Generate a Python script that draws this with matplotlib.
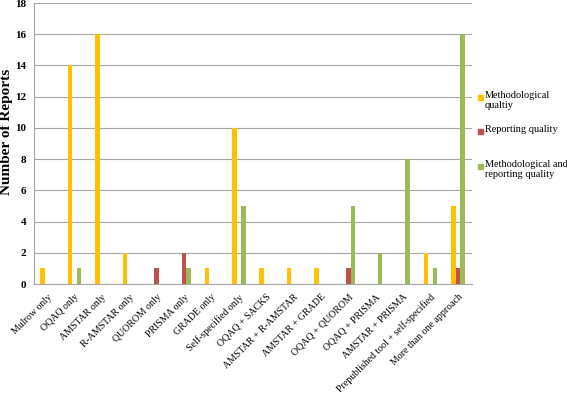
import numpy as np
import matplotlib.pyplot as plt
from matplotlib.patches import Rectangle

plt.rcParams['font.family'] = ['Liberation Serif', 'DejaVu Serif']

categorias = ["Mulrow only", "OQAQ only", "AMSTAR only", "R-AMSTAR only",
              "QUOROM only", "PRISMA only", "GRADE only", "Self-specified only",
              "OQAQ + SACKS", "AMSTAR + R-AMSTAR", "AMSTAR + GRADE",
              "OQAQ + QUOROM", "OQAQ + PRISMA", "AMSTAR + PRISMA",
              "Prepublished tool + self-specified", "More than one approach"]
metodologica = [1, 14, 16, 2, 0, 0, 1, 10, 1, 1, 1, 0, 0, 0, 2, 5]
reporte = [0, 0, 0, 0, 1, 2, 0, 0, 0, 0, 0, 1, 0, 0, 0, 1]
ambas = [0, 1, 0, 0, 0, 1, 0, 5, 0, 0, 0, 5, 2, 8, 1, 16]

series = [
    ("Methodological\nqualtiy", metodologica, "#FFC000"),
    ("Reporting quality", reporte, "#C0504D"),
    ("Methodological and\nreporting quality", ambas, "#9BBB59"),
]

W, H = 567, 394
fig = plt.figure(figsize=(W / 100, H / 100), dpi=100)
ax = fig.add_axes([33.5 / W, 1 - 284 / H, 438 / W, 281 / H])

x = np.arange(len(categorias))
ancho = 0.165
for i, (nombre, valores, color) in enumerate(series):
    ax.bar(x + (i - 1) * ancho, valores, ancho, color=color, label=nombre)

ax.set_xlim(-0.5, len(categorias) - 0.5)
ax.set_ylim(0, 18)
ax.set_yticks(range(0, 19, 2))
ax.yaxis.grid(True, color="#A6A6A6", linewidth=0.8)
ax.set_axisbelow(True)
for s in ["top", "right"]:
    ax.spines[s].set_visible(False)
for s in ["left", "bottom"]:
    ax.spines[s].set_color("#A6A6A6")
ax.tick_params(axis="both", length=0)
ax.tick_params(axis="x", pad=6)
ax.tick_params(axis="y", labelsize=8, pad=5)
for t in ax.get_yticklabels():
    t.set_fontweight("bold")

ax.set_xticks(x)
ax.set_xticklabels(categorias, rotation=45, ha="right", rotation_mode="anchor",
                   fontsize=7.1)
ax.set_ylabel("Number of Reports", fontsize=11, fontweight="bold")
ax.yaxis.set_label_coords(-0.047, 0.54)

# leyenda a la derecha, como en Excel
y_leyenda = [97, 131, 166]
for (nombre, _, color), yl in zip(series, y_leyenda):
    fig.patches.append(Rectangle((478 / W, 1 - (yl + 2.5) / H), 5 / W, 5 / H,
                                 color=color, transform=fig.transFigure))
    fig.text(485 / W, 1 - (yl - 6) / H, nombre, fontsize=7.4, va="top",
             ha="left", linespacing=1.2)

fig.savefig("out.png", dpi=100)
